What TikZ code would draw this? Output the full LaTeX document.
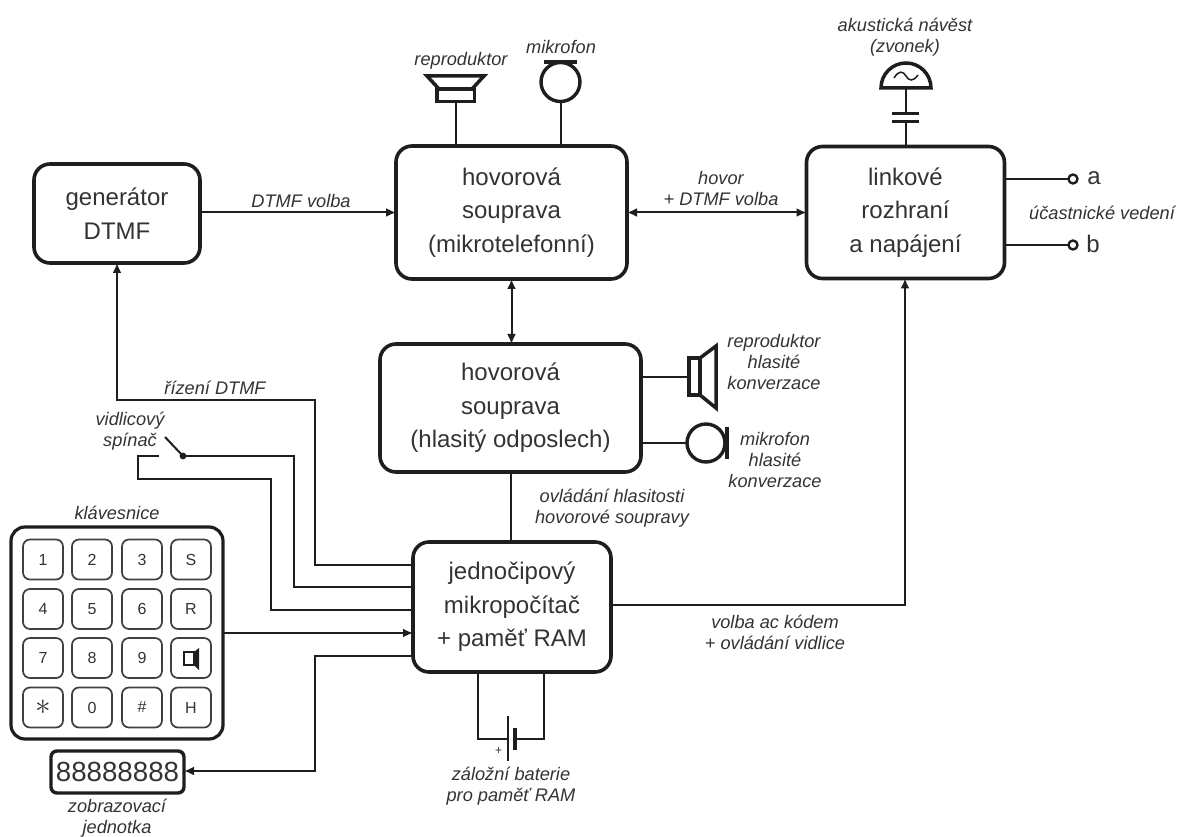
\documentclass[tikz,border=0pt]{standalone}
\usepackage{fontspec}
\setmainfont{Liberation Sans}
\usetikzlibrary{arrows.meta,calc}
\definecolor{ink}{HTML}{1E1E1E}
\definecolor{txt}{HTML}{333333}
\tikzset{
  x=1pt,y=-1pt,
  block/.style={draw=ink,line width=3.6pt,rounded corners=16pt,inner sep=0pt,outer sep=0pt,align=center,text=txt,font=\fontsize{24}{33.5}\selectfont},
  keybox/.style={draw=ink!85,line width=1.7pt,rounded corners=7pt,inner sep=0pt,outer sep=0pt,minimum width=40pt,minimum height=40pt,text=txt,font=\fontsize{16}{18}\selectfont},
  lab/.style={inner sep=0pt,outer sep=0pt,align=center,text=txt,font=\fontsize{18.2}{20.7}\selectfont\itshape},
  big/.style={inner sep=0pt,outer sep=0pt,text=txt,font=\fontsize{24}{28}\selectfont},
  wire/.style={draw=ink,line width=2pt},
  arr/.style={wire,-{Latex[length=10pt,width=9pt]}},
  darr/.style={wire,{Latex[length=10pt,width=9pt]}-{Latex[length=10pt,width=9pt]}},
  sym/.style={draw=ink,line width=3.5pt},
  term/.style={circle,draw=ink,line width=2.4pt,fill=white,minimum size=9pt,inner sep=0pt,outer sep=0pt},
}
\begin{document}
\begin{tikzpicture}
\useasboundingbox (0,0) rectangle (1179,837);
% main blocks
\node[block,minimum width=166pt,minimum height=99pt] (gen) at (117,213.5) {generátor\\DTMF};
\node[block,minimum width=231pt,minimum height=133pt] (hov) at (511.5,212.5) {hovorová\\souprava\\(mikrotelefonní)};
\node[block,minimum width=198pt,minimum height=132pt] (lin) at (905.5,212.5) {linkové\\rozhraní\\a napájení};
\node[block,minimum width=261pt,minimum height=128pt] (hla) at (510.5,408) {hovorová\\souprava\\(hlasitý odposlech)};
\node[block,minimum width=198pt,minimum height=130pt] (mcu) at (512,607) {jednočipový\\mikropočítač\\+ paměť RAM};
% keypad
\node[draw=ink,line width=3.2pt,rounded corners=14pt,minimum width=212pt,minimum height=212pt,inner sep=0pt,outer sep=0pt] (kbd) at (117,633) {};
\node[keybox] (k1) at (43,559.5) {1};
\node[keybox] (k2) at (92,559.5) {2};
\node[keybox] (k3) at (142,559.5) {3};
\node[keybox] (kS) at (191,559.5) {S};
\node[keybox] (k4) at (43,609) {4};
\node[keybox] (k5) at (92,609) {5};
\node[keybox] (k6) at (142,609) {6};
\node[keybox] (kR) at (191,609) {R};
\node[keybox] (k7) at (43,658) {7};
\node[keybox] (k8) at (92,658) {8};
\node[keybox] (k9) at (142,658) {9};
\node[keybox] (kL) at (191,658) {};
\node[keybox] (kA) at (43,707.5) {\fontsize{20}{20}\selectfont\scalebox{1.5}{$\ast$}};
\node[keybox] (k0) at (92,707.5) {0};
\node[keybox] (kH) at (142,707.5) {\#};
\node[keybox] (kX) at (191,707.5) {H};
\draw[draw=ink,line width=1.7pt] (184,652) rectangle (194,665);
\fill[ink] (194,652) -- (199,648) -- (199,670) -- (194,665) -- cycle;
% display
\node[draw=ink,line width=3.4pt,rounded corners=6pt,minimum width=133pt,minimum height=42pt,inner sep=0pt,outer sep=0pt,text=txt,font=\fontsize{27.7}{30}\selectfont] (disp) at (117.5,772) {88888888};
% free coordinates
\coordinate (r1) at (315,565); \coordinate (r2) at (315,400); \coordinate (r3) at (117,400);
\coordinate (m1) at (413,565); \coordinate (m2) at (413,587); \coordinate (m3) at (413,610); \coordinate (m4) at (413,633); \coordinate (m5) at (413,656);
\coordinate (s1) at (294,587); \coordinate (s2) at (294,456); \coordinate (s3) at (183,456); \coordinate (s4) at (165,437);
\coordinate (t1) at (271,610); \coordinate (t2) at (271,479); \coordinate (t3) at (138,479); \coordinate (t4) at (138,456); \coordinate (t5) at (159,456);
\coordinate (d1) at (315,656); \coordinate (d2) at (315,771);
\coordinate (kk) at (223,633);
\coordinate (v1) at (611,605); \coordinate (v2) at (905,605); \coordinate (v3) at (905,278.5);
% connectors
\draw[arr] (gen.east |- hov.west) -- (hov.west);
\draw[darr] (hov.east) -- (lin.west);
\draw[darr] (hov.south) -- (hla.north -| hov.south);
\draw[wire] (hla.south) -- (mcu.north -| hla.south);
\draw[arr] (v1) -- (v2) -- (v3);
\draw[arr] (m1) -- (r1) -- (r2) -- (r3) -- (gen.south);
\draw[wire] (m2) -- (s1) -- (s2) -- (s3);
\draw[wire] (s3) -- (s4);
\fill[ink] (s3) circle (3.4pt);
\draw[wire] (t5) -- (t4) -- (t3) -- (t2)  -- (t2 |- m3) -- (m3);
\draw[arr] (kk) -- (m4);
\draw[arr] (m5) -- (d1) -- (d2) -- (d2 -| disp.east);
% battery
\coordinate (b1) at (478,672); \coordinate (b2) at (478,739); \coordinate (b3) at (508,739);
\coordinate (b4) at (544,672); \coordinate (b5) at (544,739); \coordinate (b6) at (515,739);
\draw[wire] (b1) -- (b2) -- (b3);
\draw[wire] (b4) -- (b5) -- (b6);
\draw[draw=ink,line width=2.2pt] (508,716) -- (508,761);
\draw[draw=ink,line width=4.4pt] (515,728) -- (515,750);
\node[inner sep=0pt,text=txt,font=\fontsize{12}{12}\selectfont] (plus) at (498.5,751) {+};
% top speaker
\draw[sym,line join=miter] (427,76) -- (484,76) -- (472,89) -- (439,89) -- cycle;
\draw[sym] (437,89) rectangle (474.5,101.5);
\coordinate (sp) at (455.5,101.5);
\draw[wire] (sp) -- (hov.north -| sp);
% top mic
\node[circle,draw=ink,line width=3.4pt,minimum size=39pt,inner sep=0pt,outer sep=0pt] (mic) at (560.5,82) {};
\draw[draw=ink,line width=4.4pt] (544,62) -- (577,62);
\draw[wire] (mic.south) -- (hov.north -| mic.south);
% right speaker
\draw[sym] (689,358) rectangle (700,395);
\draw[sym] (700,358) -- (716,346) -- (716,408) -- (700,395);
\coordinate (rs) at (689,377);
\draw[wire] (rs -| hla.east) -- (rs);
% right mic
\node[circle,draw=ink,line width=3.4pt,minimum size=38pt,inner sep=0pt,outer sep=0pt] (rmic) at (706,443) {};
\draw[draw=ink,line width=4.4pt] (727,427) -- (727,459);
\draw[wire] (rmic.west -| hla.east) -- (rmic.west);
% bell
\draw[sym,line join=miter] (881,88) arc[start angle=180,end angle=360,x radius=25,y radius=25] -- cycle;
\draw[draw=ink,line width=1.5pt] (894,78) .. controls (899,70) and (903,71) .. (906,76) .. controls (909,81) and (913,82) .. (918,75);
\coordinate (be) at (906,88); \coordinate (c1) at (906,114); \coordinate (c2) at (906,122);
\draw[wire] (be) -- (c1);
\draw[wire] (c2) -- (lin.north -| c2);
\draw[draw=ink,line width=3pt] (892,114) -- (919,114);
\draw[draw=ink,line width=3pt] (892,122) -- (919,122);
% terminals
\node[term] (ta) at (1073,179) {};
\node[term] (tb) at (1073,245) {};
\draw[wire] (ta -| lin.east) -- (ta.west);
\draw[wire] (tb -| lin.east) -- (tb.west);
\node[big] (la) at (1094,178) {a};
\node[big] (lb) at (1093,244) {b};
% labels
\node[lab] (l1) at (461,61) {reproduktor};
\node[lab] (l2) at (561,47) {mikrofon};
\node[lab] (l3) at (905,37) {akustická návěst\\(zvonek)};
\node[lab] (l4) at (301,201) {DTMF volba};
\node[lab] (l5) at (721,188.5) {hovor\\+ DTMF volba};
\node[lab] (l6) at (1102,213) {účastnické vedení};
\node[lab] (l7) at (215,388) {řízení DTMF};
\node[lab] (l8) at (130,431.5) {vidlicový\\spínač};
\node[lab] (l9) at (117,513) {klávesnice};
\node[lab] (l10) at (117,818.5) {zobrazovací\\jednotka};
\node[lab] (l11) at (774,362) {reproduktor\\hlasité\\konverzace};
\node[lab] (l12) at (775,460) {mikrofon\\hlasité\\konverzace};
\node[lab] (l13) at (612,508.5) {ovládání hlasitosti\\hovorové soupravy};
\node[lab] (l14) at (775,632.5) {volba ac kódem\\+ ovládání vidlice};
\node[lab] (l15) at (511,786.5) {záložní baterie\\pro paměť RAM};
\end{tikzpicture}
\end{document}
